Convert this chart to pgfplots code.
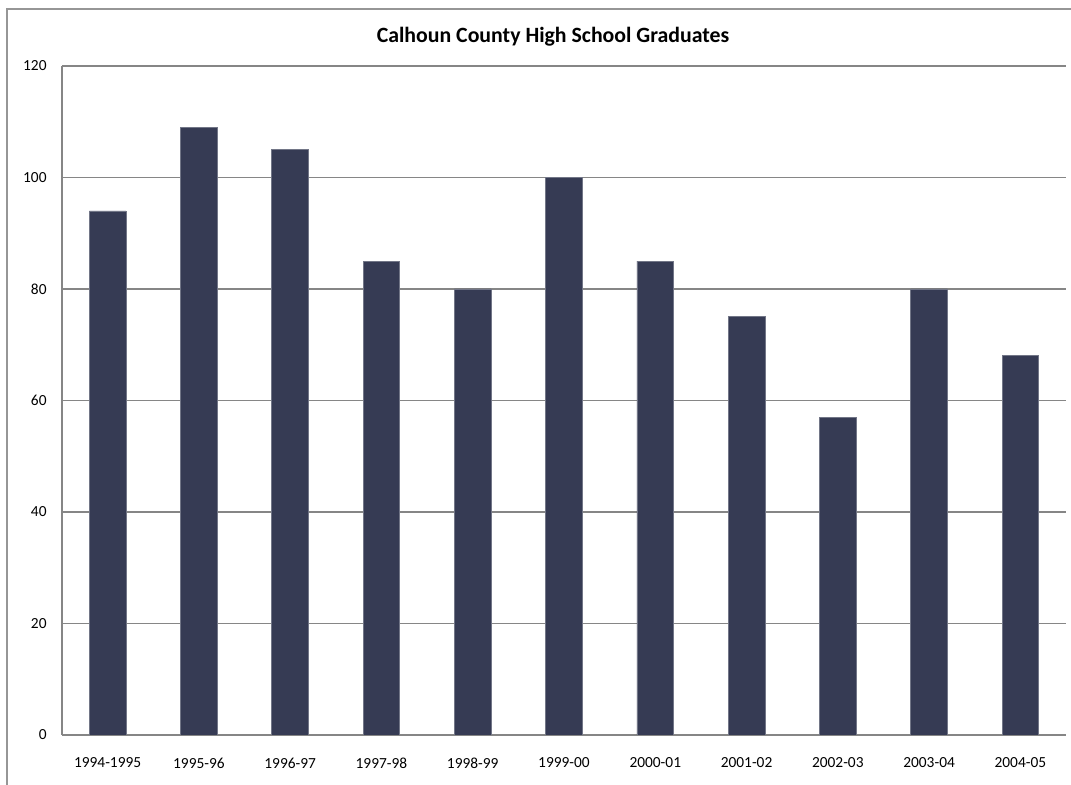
\documentclass[border=0pt]{standalone}
\usepackage{pgfplots}
\pgfplotsset{compat=1.18}
\usepackage{fontspec}
\setmainfont{Carlito}
\definecolor{barcol}{RGB}{54,59,84}
\definecolor{linegray}{RGB}{134,134,134}
\definecolor{framegray}{RGB}{150,150,150}
\begin{document}
\begin{tikzpicture}
\useasboundingbox (0pt,0pt) rectangle (535.5pt,392.5pt);
\draw[framegray, line width=0.7pt] (3.5pt,0pt) -- (3.5pt,388pt) -- (535.5pt,388pt);
\begin{axis}[
  at={(31pt,25pt)}, anchor=south west,
  scale only axis, width=502pt, height=334.5pt,
  xmin=-0.5, xmax=10.5, ymin=0, ymax=120,
  ytick={0,20,...,120},
  xtick={0,...,10},
  xticklabels={1994-1995,1995-96,1996-97,1997-98,1998-99,1999-00,2000-01,2001-02,2002-03,2003-04,2004-05},
  axis x line*=bottom, axis y line*=left,
  axis line style={-, draw=linegray, line width=0.6pt},
  major tick length=0pt,
  ymajorgrids, grid style={draw=linegray, line width=0.6pt},
  /pgf/number format/assume math mode=true,
  tick label style={font=\fontsize{7.7}{9}\selectfont},
  xticklabel style={anchor=center, yshift=-14pt},
  yticklabel style={anchor=east, inner sep=0pt, xshift=-7.5pt},
  ybar, bar width=18.35pt,
]
\addplot[fill=barcol, draw=barcol!70!white, line width=0.4pt] coordinates {
(0,94) (1,109) (2,105) (3,85) (4,80) (5,100) (6,85) (7,75) (8,57) (9,80) (10,68)};
\end{axis}
\node[anchor=base, inner sep=0pt, font=\fontsize{10.9}{13}\selectfont\bfseries] at (276.5pt,371pt) {Calhoun County High School Graduates};
\end{tikzpicture}
\end{document}
